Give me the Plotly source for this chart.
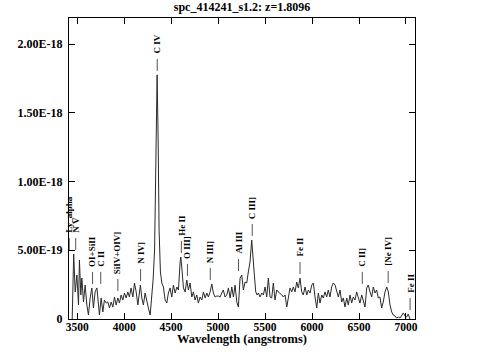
import plotly.graph_objects as go

# ---------------- data ----------------
title_text = "spc_414241_s1.2: z=1.8096"
redshift = 1.8096

wavelength = [3447, 3463, 3479, 3497, 3514, 3524, 3539, 3550, 3567, 3585,
              3603, 3620, 3638, 3656, 3673, 3691, 3710, 3727, 3737, 3755,
              3773, 3790, 3809, 3827, 3844, 3862, 3880, 3897, 3915, 3933,
              3950, 3968, 3986, 4003, 4021, 4039, 4056, 4074, 4093, 4110,
              4128, 4146, 4160, 4173, 4188, 4205, 4223, 4241, 4258, 4277,
              4293, 4308, 4324, 4340, 4351, 4362, 4372, 4386, 4401, 4418,
              4436, 4454, 4471, 4489, 4507, 4524, 4543, 4561, 4578, 4596,
              4603, 4614, 4631, 4649, 4667, 4684, 4702, 4720, 4737, 4755,
              4773, 4790, 4808, 4827, 4844, 4862, 4880, 4897, 4915, 4933,
              4950, 4968, 4986, 5003, 5021, 5039, 5056, 5074, 5093, 5110,
              5128, 5146, 5163, 5181, 5199, 5216, 5234, 5252, 5269, 5287,
              5305, 5322, 5340, 5358, 5376, 5386, 5401, 5415, 5429, 5447,
              5465, 5482, 5500, 5518, 5535, 5553, 5571, 5588, 5606, 5624,
              5641, 5659, 5678, 5695, 5713, 5731, 5748, 5766, 5784, 5801,
              5819, 5837, 5854, 5872, 5890, 5907, 5925, 5944, 5961, 5979,
              5997, 6014, 6032, 6050, 6067, 6085, 6103, 6120, 6138, 6156,
              6173, 6191, 6209, 6226, 6245, 6262, 6280, 6298, 6316, 6333,
              6351, 6369, 6386, 6404, 6422, 6439, 6457, 6475, 6492, 6510,
              6529, 6546, 6564, 6582, 6599, 6617, 6635, 6652, 6670, 6688,
              6705, 6723, 6741, 6758, 6777, 6795, 6812, 6830, 6848, 6865,
              6883, 6901, 6919, 6936, 6954, 6972, 6989, 7007, 7024, 7042]

# flux in units of 1e-19
flux_e19 = [0.00, 4.73, 1.97, 3.20, 1.02, 4.29, 1.75, 2.98, 1.24, 2.47,
            1.02, 0.29, 1.53, 2.26, 0.80, 1.97, 2.26, 0.51, 0.29, 1.53,
            0.51, 1.38, 1.16, 1.24, 0.80, 1.24, 0.87, 1.60, 1.02, 1.53,
            1.16, 1.75, 1.38, 1.89, 1.53, 1.97, 1.60, 2.26, 1.60, 2.62,
            1.97, 1.02, 1.97, 2.47, 1.53, 1.02, 1.89, 1.16, 0.80, 0.29,
            1.53, 2.84, 5.02, 12.30, 17.76, 13.03, 6.48, 3.42, 2.62, 2.33,
            1.38, 1.16, 1.89, 2.26, 1.60, 2.47, 1.89, 2.33, 2.11, 4.15,
            4.51, 3.71, 2.26, 1.97, 2.84, 2.11, 2.62, 1.60, 1.97, 1.38,
            1.75, 1.16, 1.60, 1.38, 1.97, 1.53, 1.89, 1.60, 1.97, 2.55,
            1.89, 1.60, 1.67, 1.67, 1.60, 1.89, 2.11, 1.60, 1.75, 2.26,
            1.53, 2.33, 1.60, 2.47, 1.24, 0.87, 2.98, 3.20, 2.11, 2.69,
            2.62, 3.42, 4.15, 5.75, 4.44, 3.20, 1.97, 1.75, 1.89, 1.60,
            1.89, 1.75, 2.33, 1.60, 2.98, 1.60, 1.53, 2.62, 1.38, 2.11,
            1.97, 1.89, 1.75, 1.60, 1.75, 0.87, 1.60, 2.26, 1.97, 2.33,
            1.97, 2.69, 2.26, 2.98, 1.97, 1.75, 2.33, 1.75, 2.11, 1.89,
            2.47, 2.62, 1.60, 0.80, 1.89, 1.16, 1.75, 1.53, 1.97, 1.60,
            2.11, 1.60, 2.33, 2.62, 2.47, 1.97, 1.60, 2.11, 1.24, 1.53,
            0.87, 1.53, 1.02, 1.75, 1.16, 1.60, 1.38, 1.97, 1.60, 1.16,
            1.75, 1.24, 0.87, 2.26, 2.47, 1.97, 1.60, 2.33, 1.89, 2.11,
            1.53, 1.60, 0.80, 1.24, 1.97, 2.33, 1.97, 1.02, 0.51, 0.29,
            0.22, 0.07, 0.15, 0.07, 0.22, 0.44, 0.22, 0.15, 0.36, 0.00]

line_names = ["Ly_alpha", "N V", "OI+SiII", "C II", "SiIV+OIV]", "N IV]",
              "C IV", "He II", "O III]", "N III]", "Al III", "C III]",
              "Fe II", "C II]", "[Ne IV]", "Fe II"]
line_rest = [1215.67, 1240.14, 1304.0, 1335.0, 1400.0, 1486.0,
             1549.0, 1640.4, 1663.5, 1750.0, 1857.0, 1909.0,
             2090.0, 2326.0, 2424.0, 2507.0]

x_tick_vals = [3500, 4000, 4500, 5000, 5500, 6000, 6500, 7000]
y_tick_vals = [0, 5e-19, 1e-18, 1.5e-18, 2e-18]
y_tick_text = ["0", "5.00E-19", "1.00E-18", "1.50E-18", "2.00E-18"]

# ---------------- figure ----------------
flux = [f * 1e-19 for f in flux_e19]
FONT = "Liberation Serif"

fig = go.Figure()
fig.add_trace(go.Scatter(x=wavelength, y=flux, mode="lines",
                         line=dict(color="#2a2a2a", width=1),
                         hoverinfo="skip", showlegend=False))

shapes = []
annotations = []
for name, rest in zip(line_names, line_rest):
    obs = rest * (1 + redshift)
    near = [f for w, f in zip(wavelength, flux) if abs(w - obs) <= 50]
    anchor = max(near) if near else 0.0
    shapes.append(dict(type="line", xref="x", yref="y", x0=obs, x1=obs,
                       ysizemode="pixel", yanchor=anchor, y0=4, y1=16,
                       line=dict(color="#555555", width=1)))
    annotations.append(dict(x=obs, y=anchor, xref="x", yref="y", text=name,
                            showarrow=False, textangle=-90, yshift=19,
                            xanchor="center", yanchor="bottom",
                            font=dict(family=FONT, size=9, color="black",
                                      weight="bold")))

annotations.append(dict(x=0.5, y=-0.066, xref="paper", yref="paper",
                        text="Wavelength (angstroms)", showarrow=False,
                        xanchor="center", yanchor="middle",
                        font=dict(family=FONT, size=12.5, color="black",
                                  weight="bold")))

axis_common = dict(showline=True, linecolor="black", linewidth=1, mirror="ticks",
                   ticks="inside", ticklen=6, tickcolor="black", tickwidth=1,
                   showgrid=False, zeroline=False)

fig.update_layout(
    width=483, height=358,
    margin=dict(l=69, r=68, t=18, b=39),
    paper_bgcolor="white", plot_bgcolor="white",
    title=dict(text=title_text, x=0.5, xref="paper", xanchor="center",
               y=1 - 7 / 358, yref="container", yanchor="middle",
               font=dict(family=FONT, size=12, color="black", weight="bold")),
    xaxis=dict(range=[3413, 7096], tickvals=x_tick_vals, ticklabelstandoff=-3,
               tickfont=dict(family=FONT, size=11.5, color="black", weight="bold"),
               **axis_common),
    yaxis=dict(range=[0, 2.19e-18], tickvals=y_tick_vals, ticktext=y_tick_text,
               ticklabelstandoff=3,
               tickfont=dict(family=FONT, size=12, color="black", weight="bold"),
               **axis_common),
    shapes=shapes,
    annotations=annotations,
)

fig.write_html("out.html",
               config={"displayModeBar": False},
               post_script="document.body.style.margin='0px';"
                           "document.body.style.overflow='hidden';")
